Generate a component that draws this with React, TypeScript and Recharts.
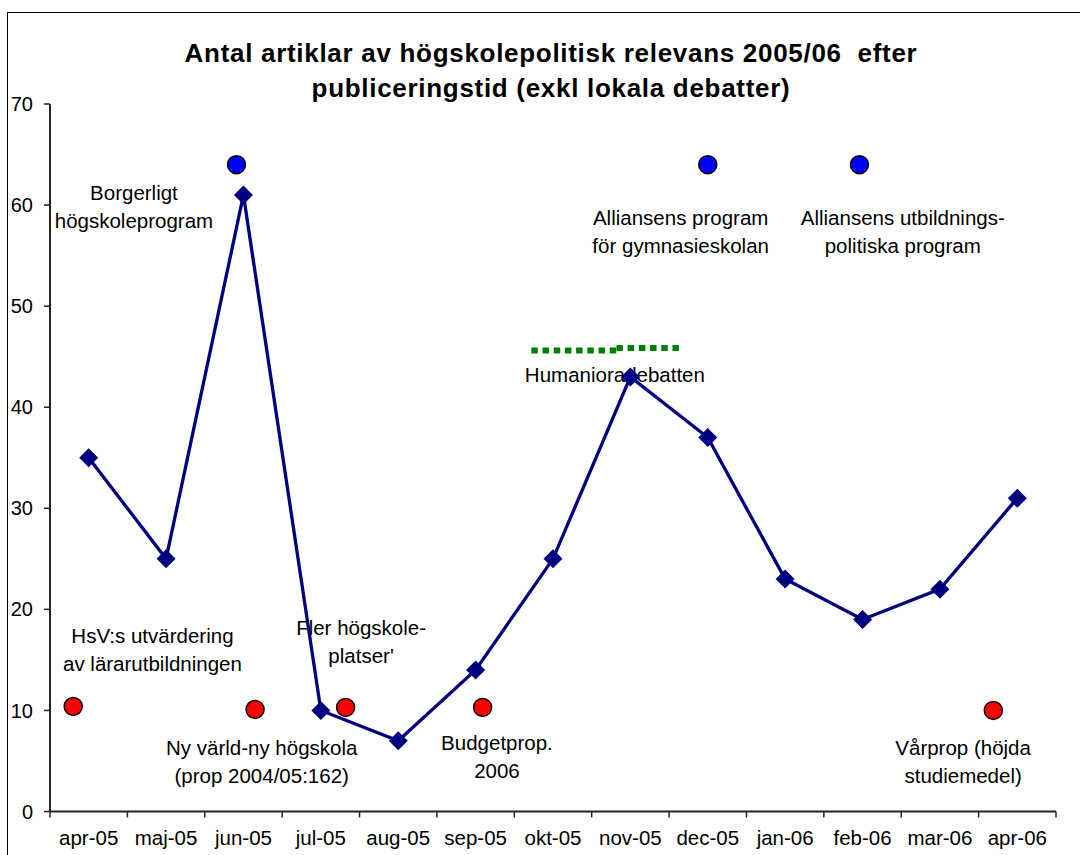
import React from 'react';
import { ComposedChart, Line, Scatter, XAxis, YAxis } from 'recharts';

const FONT = '"Liberation Sans", Arial, sans-serif';

const months = [
  'apr-05', 'maj-05', 'jun-05', 'jul-05', 'aug-05', 'sep-05', 'okt-05',
  'nov-05', 'dec-05', 'jan-06', 'feb-06', 'mar-06', 'apr-06',
];
const articleCounts = [35, 25, 61, 10, 7, 14, 25, 43, 37, 23, 19, 22, 31];

// event markers, x in month units (fraction = position inside the month)
const redEvents = [
  { x: -0.2, y: 10.4 },
  { x: 2.15, y: 10.1 },
  { x: 3.32, y: 10.3 },
  { x: 5.09, y: 10.3 },
  { x: 11.69, y: 10.0 },
];
const blueEvents = [
  { x: 1.91, y: 64 },
  { x: 8.0, y: 64 },
  { x: 9.96, y: 64 },
];
const humanioraLeft = [
  { x: 5.72, y: 45.6 },
  { x: 6.82, y: 45.6 },
];
const humanioraRight = [
  { x: 6.82, y: 45.85 },
  { x: 7.68, y: 45.85 },
];

// text notes, anchored at centre of first line baseline
const notes = [
  { x: 0.585, y: 60.5, lines: ['Borgerligt', 'högskoleprogram'] },
  { x: 0.824, y: 16.7, lines: ['HsV:s utvärdering', 'av lärarutbildningen'] },
  { x: 2.236, y: 5.6, lines: ['Ny värld-ny högskola', '(prop 2004/05:162)'] },
  { x: 3.52, y: 17.45, lines: ['Fler högskole-', "platser'"] },
  { x: 5.276, y: 6.1, lines: ['Budgetprop.', '2006'] },
  { x: 6.8, y: 42.5, lines: ['Humanioradebatten'] },
  { x: 7.65, y: 58.0, lines: ['Alliansens program', 'för gymnasieskolan'] },
  { x: 10.52, y: 58.0, lines: ['Alliansens utbildnings-', 'politiska program'] },
  { x: 11.3, y: 5.6, lines: ['Vårprop (höjda', 'studiemedel)'] },
];

const yTicks = [0, 10, 20, 30, 40, 50, 60, 70];

const lineData = articleCounts.map((y, x) => ({ x, y }));

// labels on whole months, tick marks between months
const xTicks: number[] = [];
for (let i = 0; i <= months.length; i++) {
  xTicks.push(i - 0.5);
  if (i < months.length) xTicks.push(i);
}
const xDomain = [-0.5, months.length - 0.5];

const MonthTick = (props: any) => {
  const { x, y, payload } = props;
  const v = payload.value;
  if (Math.abs(v - Math.round(v)) > 0.1) {
    return <line x1={x} x2={x} y1={y} y2={y + 6} stroke="#222" strokeWidth={1.5} />;
  }
  return (
    <text x={x} y={y + 33.5} textAnchor="middle" fontSize={20.5} fontFamily={FONT} fill="#000">
      {months[Math.round(v)]}
    </text>
  );
};

const Diamond = (props: any) => {
  const { cx, cy, index } = props;
  const s = 9.5;
  return (
    <polygon
      key={`d-${index}`}
      points={`${cx},${cy - s} ${cx + s},${cy} ${cx},${cy + s} ${cx - s},${cy}`}
      fill="#000080"
    />
  );
};

const Dot = (color: string) => (props: any) => (
  <circle cx={props.cx} cy={props.cy} r={9} fill={color} stroke="#000" strokeWidth={1.5} />
);

const Note = (props: any) => {
  const { cx, cy, payload } = props;
  return (
    <text x={cx} y={cy} textAnchor="middle" fontSize={20.5} fontFamily={FONT} fill="#000">
      {payload.lines.map((l: string, i: number) => (
        <tspan key={i} x={cx} dy={i === 0 ? 0 : 28}>
          {l}
        </tspan>
      ))}
    </text>
  );
};

export default function App() {
  return (
    <div
      style={{
        position: 'absolute',
        left: 0,
        top: 0,
        width: 1080,
        height: 855,
        overflow: 'hidden',
        background: '#fff',
      }}
    >
      <ComposedChart width={1080} height={855} margin={{ top: 104, right: 24, bottom: 3.5, left: 0 }}>
        <XAxis
          dataKey="x"
          type="number"
          domain={xDomain}
          allowDataOverflow
          ticks={xTicks}
          interval={0}
          tick={<MonthTick />}
          tickLine={false}
          tickSize={0}
          tickMargin={0}
          height={40}
          axisLine={{ stroke: '#222', strokeWidth: 2 }}
        />
        <XAxis
          xAxisId="top"
          orientation="top"
          type="number"
          domain={xDomain}
          tick={false}
          tickLine={false}
          height={0}
          axisLine={{ stroke: '#808080', strokeWidth: 2 }}
        />
        <YAxis
          dataKey="y"
          type="number"
          domain={[0, 70]}
          ticks={yTicks}
          interval={0}
          width={50}
          tickSize={6}
          tickMargin={11}
          tick={{ fontSize: 20, fontFamily: FONT, fill: '#000' }}
          tickLine={{ stroke: '#222', strokeWidth: 1.5 }}
          axisLine={{ stroke: '#222', strokeWidth: 2 }}
        />
        <YAxis
          yAxisId="right"
          orientation="right"
          type="number"
          domain={[0, 70]}
          width={0}
          tick={false}
          tickLine={false}
          axisLine={{ stroke: '#808080', strokeWidth: 2 }}
        />
        <Scatter data={notes} dataKey="y" shape={<Note />} isAnimationActive={false} />
        <Line
          data={lineData}
          dataKey="y"
          stroke="#000080"
          strokeWidth={3.3}
          dot={(p: any) => <Diamond key={`d-${p.index}`} {...p} />}
          activeDot={false}
          isAnimationActive={false}
        />
        <Line
          data={humanioraLeft}
          dataKey="y"
          stroke="#008000"
          strokeWidth={6}
          strokeDasharray="6.5 4.7"
          dot={false}
          activeDot={false}
          isAnimationActive={false}
        />
        <Line
          data={humanioraRight}
          dataKey="y"
          stroke="#008000"
          strokeWidth={6}
          strokeDasharray="6.5 4.7"
          dot={false}
          activeDot={false}
          isAnimationActive={false}
        />
        <Scatter data={redEvents} dataKey="y" shape={Dot('#ff0000')} isAnimationActive={false} />
        <Scatter data={blueEvents} dataKey="y" shape={Dot('#0000ff')} isAnimationActive={false} />
      </ComposedChart>
      <svg
        width={1080}
        height={855}
        style={{ position: 'absolute', left: 0, top: 0, pointerEvents: 'none' }}
      >
        <text
          x={551}
          y={62}
          textAnchor="middle"
          fontSize={26}
          fontWeight="bold"
          fontFamily={FONT}
          letterSpacing={0.7}
          style={{ whiteSpace: 'pre' }}
        >
          {'Antal artiklar av högskolepolitisk relevans 2005/06  efter'}
        </text>
        <text
          x={551}
          y={97}
          textAnchor="middle"
          fontSize={26}
          fontWeight="bold"
          fontFamily={FONT}
          letterSpacing={0.7}
        >
          publiceringstid (exkl lokala debatter)
        </text>
      </svg>
      <div
        style={{
          position: 'absolute',
          left: 7,
          top: 12,
          width: 1100,
          height: 900,
          borderLeft: '1.5px solid #000',
          borderTop: '1.5px solid #000',
          pointerEvents: 'none',
        }}
      />
    </div>
  );
}
